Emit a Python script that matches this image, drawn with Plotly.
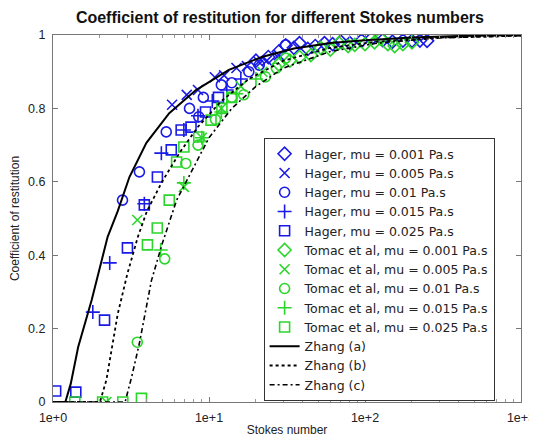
import plotly.graph_objects as go

# ---- data ----
hager_001_x = [20, 24, 28, 31, 35, 38, 43, 48, 55, 62, 70, 80, 95, 110, 130, 150, 175, 200, 225, 250]
hager_001_y = [0.93, 0.94, 0.955, 0.972, 0.965, 0.978, 0.962, 0.97, 0.978, 0.975, 0.982, 0.978, 0.985, 0.99, 0.986, 0.982, 0.985, 0.984, 0.985, 0.984]

hager_005_x = [5.8, 7.2, 8.5, 10.9, 12.5, 15, 17.5, 20.8, 23.5, 28]
hager_005_y = [0.81, 0.837, 0.85, 0.885, 0.89, 0.91, 0.915, 0.927, 0.93, 0.945]

hager_010_x = [2.79, 3.58, 5.32, 7.5, 8.6, 9.2, 12, 14, 18, 21, 31]
hager_010_y = [0.55, 0.627, 0.736, 0.80, 0.777, 0.83, 0.864, 0.87, 0.90, 0.918, 0.973]

hager_015_x = [1.80, 2.31, 3.85, 4.95, 6.9, 8.5, 10.5, 13, 16]
hager_015_y = [0.245, 0.379, 0.54, 0.678, 0.741, 0.78, 0.82, 0.85, 0.88]

hager_025_x = [1.04, 1.40, 2.14, 3.0, 3.85, 4.67, 5.73, 6.63, 7.67, 9.5, 11.5]
hager_025_y = [0.03, 0.027, 0.223, 0.42, 0.537, 0.613, 0.687, 0.741, 0.749, 0.79, 0.83]

tomac_001_x = [28, 33, 38, 45, 52, 60, 68, 78, 86, 100, 115, 126, 140, 155, 175, 200]
tomac_001_y = [0.92, 0.93, 0.94, 0.945, 0.965, 0.96, 0.978, 0.97, 0.973, 0.975, 0.98, 0.99, 0.975, 0.97, 0.975, 0.98]

tomac_005_x = [2.2, 3.47, 6.9, 9, 12, 16, 22]
tomac_005_y = [0.0, 0.496, 0.586, 0.72, 0.8, 0.86, 0.9]

tomac_010_x = [3.47, 5.2, 7.1, 8.5, 11, 14, 16.7, 23, 27, 31]
tomac_010_y = [0.163, 0.39, 0.65, 0.70, 0.77, 0.83, 0.837, 0.886, 0.91, 0.937]

tomac_015_x = [4.9, 6.9, 9, 12, 15, 20]
tomac_015_y = [0.414, 0.597, 0.72, 0.79, 0.84, 0.88]

tomac_025_x = [1.38, 2.08, 2.8, 3.69, 4.03, 4.66, 5.56, 6.2, 6.9, 8.6, 10.3, 12.1, 14]
tomac_025_y = [0, 0, 0, 0.01, 0.428, 0.474, 0.55, 0.654, 0.695, 0.722, 0.768, 0.80, 0.83]

zhang_a_x = [1.05, 1.2, 1.3, 1.45, 1.77, 2.0, 2.24, 2.6, 3.09, 3.97, 5.56, 8.25, 13.4, 21.8, 35, 60, 100, 200, 400, 1000]
zhang_a_y = [0, 0, 0.05, 0.15, 0.278, 0.37, 0.45, 0.52, 0.613, 0.706, 0.787, 0.85, 0.905, 0.94, 0.963, 0.978, 0.986, 0.993, 0.997, 1.0]

zhang_b_x = [1.0, 2.0, 2.2, 2.6, 3.0, 3.5, 4.0, 5.0, 6.5, 8.5, 12, 18, 30, 60, 120, 300, 1000]
zhang_b_y = [0, 0, 0.06, 0.24, 0.35, 0.45, 0.52, 0.60, 0.68, 0.75, 0.82, 0.88, 0.93, 0.965, 0.982, 0.993, 0.998]

zhang_c_x = [1.0, 2.9, 3.2, 3.58, 4.27, 5.0, 6.2, 7.8, 10, 14, 20, 30, 60, 120, 300, 1000]
zhang_c_y = [0, 0, 0.07, 0.16, 0.33, 0.43, 0.55, 0.63, 0.72, 0.80, 0.86, 0.91, 0.955, 0.978, 0.992, 0.998]

x_tickvals = [1, 10, 100, 1000]
x_ticktext = ["1e+0", "1e+1", "1e+2", "1e+3"]
x_minor_ticks = [m * d for d in (1, 10, 100) for m in range(2, 10)]

BLUE = "#1a1ae6"
GREEN = "#2bd62b"
FONT = "Liberation Sans, Arial, Helvetica, sans-serif"
LFONT = "DejaVu Sans, Verdana, sans-serif"

fig = go.Figure()

def add_markers(x, y, name, color, symbol, size=9):
    fig.add_trace(go.Scatter(
        x=x, y=y, mode="markers", name=name,
        marker=dict(symbol=symbol, size=size, color=color,
                    line=dict(color=color, width=1.6)),
    ))

add_markers(hager_001_x, hager_001_y, "Hager, mu = 0.001 Pa.s", BLUE, "diamond-open", 10)
add_markers(hager_005_x, hager_005_y, "Hager, mu = 0.005 Pa.s", BLUE, "x-thin-open", 10)
add_markers(hager_010_x, hager_010_y, "Hager, mu = 0.01 Pa.s", BLUE, "circle-open", 10)
add_markers(hager_015_x, hager_015_y, "Hager, mu = 0.015 Pa.s", BLUE, "cross-thin-open", 10)
add_markers(hager_025_x, hager_025_y, "Hager, mu = 0.025 Pa.s", BLUE, "square-open", 10)
add_markers(tomac_001_x, tomac_001_y, "Tomac et al, mu = 0.001 Pa.s", GREEN, "diamond-open", 10)
add_markers(tomac_005_x, tomac_005_y, "Tomac et al, mu = 0.005 Pa.s", GREEN, "x-thin-open", 10)
add_markers(tomac_010_x, tomac_010_y, "Tomac et al, mu = 0.01 Pa.s", GREEN, "circle-open", 10)
add_markers(tomac_015_x, tomac_015_y, "Tomac et al, mu = 0.015 Pa.s", GREEN, "cross-thin-open", 10)
add_markers(tomac_025_x, tomac_025_y, "Tomac et al, mu = 0.025 Pa.s", GREEN, "square-open", 10)

fig.add_trace(go.Scatter(x=zhang_a_x, y=zhang_a_y, mode="lines", name="Zhang (a)",
                         line=dict(color="black", width=2)))
fig.add_trace(go.Scatter(x=zhang_b_x, y=zhang_b_y, mode="lines", name="Zhang (b)",
                         line=dict(color="black", width=1.8, dash="3px,3px")))
fig.add_trace(go.Scatter(x=zhang_c_x, y=zhang_c_y, mode="lines", name="Zhang (c)",
                         line=dict(color="black", width=1.6, dash="5px,3px,2px,3px")))

# page has an 8px body margin; figure sized so the page does not overflow the window
fig.update_layout(
    width=529, height=429,
    margin=dict(l=45, r=16, t=27, b=35, autoexpand=False),
    paper_bgcolor="white", plot_bgcolor="white",
    font=dict(family=FONT, size=12, color="#222222"),
    title=dict(text="<b>Coefficient of restitution for different Stokes numbers</b>",
               x=0.514, xanchor="center", y=0.978, yanchor="middle",
               font=dict(family=FONT, size=16, color="#111111")),
    showlegend=True,
    legend=dict(x=0.45, y=0.719, xanchor="left", yanchor="top",
                bgcolor="white", bordercolor="#333333", borderwidth=1,
                font=dict(family=LFONT, size=12.5, color="#222222"),
                tracegroupgap=0, itemwidth=30),
)

fig.update_xaxes(
    type="log", range=[0, 3], automargin=False,
    tickvals=x_tickvals, ticktext=x_ticktext, ticklabeloverflow="allow",
    ticks="inside", ticklen=5, tickcolor="#777777",
    minor=dict(tickvals=x_minor_ticks, ticks="inside", ticklen=3, tickcolor="#999999", showgrid=False),
    showline=True, linecolor="#777777", linewidth=1, mirror="ticks",
    showgrid=False, zeroline=False,
    ticklabelstandoff=4,
    title=dict(text="Stokes number", font=dict(family=FONT, size=12), standoff=1),
    tickfont=dict(family=FONT, size=12.5),
)
fig.update_yaxes(
    range=[0, 1], dtick=0.2, tick0=0, automargin=False,
    ticks="inside", ticklen=5, tickcolor="#777777",
    showline=True, linecolor="#777777", linewidth=1, mirror="ticks",
    showgrid=False, zeroline=False,
    ticklabelstandoff=4,
    title=dict(text="Coefficient of restitution", font=dict(family=FONT, size=12), standoff=12),
    tickfont=dict(family=FONT, size=12.5),
)

fig.write_html("out.html")
